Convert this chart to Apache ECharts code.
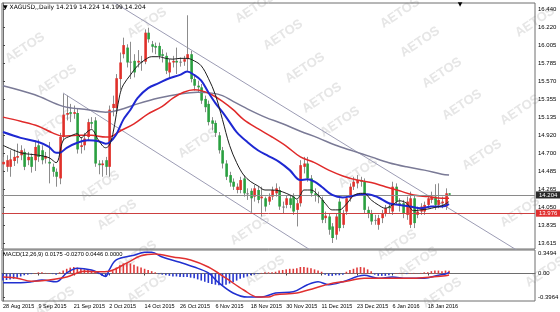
<!DOCTYPE html>
<html><head><meta charset="utf-8">
<script src="https://cdn.jsdelivr.net/npm/echarts@6/dist/echarts.min.js"></script>
<style>html,body{margin:0;padding:0;background:#fff}#c{width:560px;height:312px}</style>
</head><body><div id="c"></div>
<script>
// ---------- DATA ----------
// candles: [open, close, low, high], one per bar (bar index = position)
const candles = [
[14.57,14.60,14.50,14.66],[14.54,14.62,14.48,14.68],[14.54,14.63,14.42,14.74],[14.61,14.66,14.55,14.75],
[14.65,14.67,14.58,14.82],[14.68,14.74,14.62,14.80],[14.72,14.54,14.50,14.76],[14.62,14.66,14.56,14.72],
[14.66,14.54,14.47,14.70],[14.62,14.78,14.49,14.86],[14.80,14.66,14.60,14.87],[14.74,14.62,14.57,14.80],
[14.64,14.67,14.58,14.72],[14.60,14.58,14.34,14.84],[14.54,14.48,14.42,14.58],[14.48,14.42,14.30,14.52],
[14.40,14.90,14.33,14.95],[14.90,15.17,14.85,15.42],[15.17,15.19,15.10,15.40],[15.20,15.18,15.08,15.30],
[15.18,15.20,15.12,15.28],[15.19,14.75,14.70,15.25],[14.78,14.80,14.70,14.90],[14.80,14.88,14.74,14.95],
[14.90,15.08,14.85,15.12],[15.08,15.06,15.00,15.14],[15.10,14.58,14.54,15.14],[14.58,14.56,14.45,14.62],
[14.56,14.58,14.42,14.62],[14.62,14.54,14.44,14.66],[14.54,15.23,14.42,15.28],[15.25,15.30,15.15,15.40],
[15.25,15.61,15.20,15.66],[15.60,15.80,15.47,15.92],[15.90,16.01,15.85,16.10],[15.98,15.80,15.74,16.02],
[15.80,15.81,15.60,16.05],[15.82,15.68,15.62,15.90],[15.80,15.82,15.74,15.95],[15.80,15.81,15.70,15.88],
[15.81,16.16,15.78,16.20],[16.16,16.08,16.04,16.22],[16.02,15.99,15.92,16.06],[16.00,15.98,15.90,16.04],
[16.00,15.88,15.84,16.04],[15.90,15.88,15.80,15.96],[15.88,15.70,15.66,15.92],[15.68,15.80,15.60,15.84],
[15.80,15.82,15.74,15.88],[15.82,15.80,15.66,15.98],[15.80,15.81,15.75,15.86],[15.81,15.84,15.76,15.88],
[15.84,15.90,15.70,16.37],[15.90,15.60,15.56,15.94],[15.60,15.52,15.46,15.64],[15.52,15.50,15.44,15.58],
[15.50,15.34,15.30,15.54],[15.36,15.26,15.20,15.40],[15.30,15.08,15.04,15.34],[15.10,15.06,14.98,15.14],
[15.07,14.95,14.90,15.10],[14.92,14.74,14.70,14.96],[14.74,14.58,14.52,14.78],[14.58,14.42,14.38,14.62],
[14.44,14.35,14.30,14.48],[14.36,14.30,14.26,14.40],[14.26,14.30,14.22,14.34],[14.26,14.38,14.22,14.42],
[14.40,14.22,14.18,14.44],[14.22,14.21,14.14,14.28],[14.25,14.16,13.99,14.28],[14.18,14.28,14.12,14.32],
[14.26,14.14,14.10,14.30],[14.16,14.18,13.94,14.30],[14.16,14.06,14.00,14.18],[14.12,14.18,14.08,14.22],
[14.18,14.26,14.14,14.30],[14.22,14.28,14.18,14.34],[14.26,14.06,14.02,14.30],[14.06,14.05,13.98,14.12],
[14.08,14.16,14.04,14.20],[14.16,14.08,14.04,14.20],[14.18,14.00,13.96,14.22],[14.02,14.10,13.82,14.14],
[14.10,14.56,14.06,14.62],[14.54,14.58,14.46,14.66],[14.58,14.40,14.36,14.66],[14.40,14.22,14.18,14.44],
[14.22,14.20,14.12,14.28],[14.20,14.18,14.10,14.24],[14.14,13.90,13.86,14.18],[13.92,13.95,13.86,14.00],
[13.94,13.78,13.72,13.98],[13.82,13.68,13.62,13.86],[13.72,13.94,13.66,13.98],[14.12,13.80,13.76,14.16],
[13.84,13.98,13.80,14.02],[14.00,14.16,13.96,14.20],[14.16,14.30,14.12,14.34],[14.30,14.36,14.26,14.42],
[14.34,14.38,14.28,14.44],[14.38,14.36,14.30,14.42],[14.36,14.02,13.98,14.40],[14.02,13.98,13.92,14.06],
[13.98,13.88,13.84,14.02],[13.90,13.90,13.84,13.96],[13.84,13.92,13.78,13.96],[13.92,13.98,13.86,14.02],
[13.98,14.04,13.94,14.08],[14.06,14.04,13.98,14.10],[14.00,14.30,13.96,14.36],[14.30,14.12,14.08,14.34],
[14.10,14.08,14.00,14.16],[14.10,13.98,13.92,14.14],[13.96,14.12,13.90,14.18],[13.84,14.16,13.80,14.24],
[14.16,13.86,13.80,14.20],[13.96,14.00,13.92,14.06],[14.00,14.06,13.96,14.10],[14.00,14.08,13.96,14.12],
[14.08,14.16,14.04,14.20],[14.14,14.18,14.10,14.24],[14.18,14.08,14.02,14.33],[14.08,14.14,14.04,14.34],
[14.10,14.12,14.04,14.18],[14.06,14.22,14.02,14.28],[14.219,14.204,14.199,14.224]
];
// moving averages: [bar, price]
const maBlack = [[0,14.80],[5,14.71],[10,14.68],[13,14.65],[15,14.59],[17,14.86],[19,14.91],[21,14.94],[22,14.89],[24,14.97],[25,14.99],[27,14.86],[29,14.77],[30,14.80],[31,14.93],[32,15.17],[33,15.41],[34,15.53],[36,15.65],[38,15.76],[40,15.83],[42,15.87],[44,15.87],[46,15.85],[48,15.84],[50,15.85],[52,15.85],[54,15.82],[56,15.76],[58,15.61],[60,15.41],[62,15.11],[64,14.80],[66,14.59],[68,14.44],[70,14.36],[72,14.31],[74,14.26],[76,14.26],[78,14.25],[80,14.22],[82,14.18],[83,14.15],[84,14.20],[85,14.26],[87,14.26],[89,14.20],[91,14.10],[93,14.02],[95,14.02],[97,14.09],[99,14.19],[101,14.22],[102,14.22],[104,14.14],[106,14.08],[108,14.04],[110,14.08],[112,14.13],[114,14.10],[116,14.01],[118,14.02],[120,14.03],[122,14.05],[124,14.07],[126,14.12]];
const maBlue = [[0,14.96],[5,14.89],[10,14.84],[13,14.78],[15,14.71],[16,14.71],[18,14.77],[21,14.83],[24,14.86],[27,14.85],[29,14.82],[30,14.83],[32,14.93],[34,15.11],[36,15.23],[38,15.37],[41,15.49],[44,15.55],[47,15.61],[50,15.65],[52,15.69],[54,15.65],[56,15.58],[58,15.44],[60,15.31],[62,15.20],[64,15.08],[66,14.96],[69,14.84],[72,14.74],[75,14.67],[78,14.60],[81,14.50],[84,14.38],[86,14.39],[88,14.36],[90,14.30],[93,14.20],[96,14.17],[99,14.19],[101,14.21],[103,14.21],[106,14.17],[109,14.10],[112,14.08],[115,14.06],[118,14.04],[121,14.06],[124,14.06],[126,14.09]];
const maRed = [[0,15.14],[5,15.09],[10,15.03],[14,14.95],[17,14.91],[21,14.92],[25,14.92],[29,14.90],[30,14.90],[33,14.97],[37,15.06],[41,15.18],[45,15.27],[48,15.37],[51,15.44],[54,15.47],[56,15.46],[59,15.41],[62,15.33],[65,15.23],[68,15.11],[72,15.00],[76,14.90],[80,14.79],[84,14.66],[88,14.59],[92,14.50],[96,14.43],[100,14.38],[104,14.35],[108,14.30],[112,14.25],[116,14.20],[120,14.18],[124,14.16],[126,14.16]];
const maGray = [[0,15.52],[9,15.41],[17,15.27],[24,15.23],[29,15.20],[33,15.23],[38,15.30],[44,15.37],[50,15.42],[55,15.44],[59,15.43],[62,15.40],[65,15.33],[69,15.24],[74,15.14],[79,15.06],[84,14.97],[89,14.89],[94,14.80],[99,14.73],[104,14.66],[109,14.59],[114,14.54],[119,14.50],[124,14.45],[126,14.44]];
// trend channel anchors: [bar, price]
const channelUpper = [[28,16.613],[150,13.406]];
const channelLower = [[16.95,15.432],[95,13.313]];
const levelLine = 13.976;
// MACD
const macdMain = [[0,-0.156],[5,-0.156],[8,-0.14],[11,-0.11],[15,-0.14],[18,0.01],[21,0.09],[25,0.06],[27,0.01],[29,-0.05],[30,0.06],[32,0.23],[37,0.31],[40,0.36],[42,0.36],[45,0.28],[50,0.19],[54,0.11],[58,0.01],[61,-0.16],[65,-0.33],[69,-0.40],[73,-0.40],[77,-0.33],[82,-0.31],[86,-0.19],[89,-0.14],[92,-0.19],[96,-0.14],[102,-0.03],[106,-0.08],[110,-0.06],[114,-0.08],[119,-0.08],[123,-0.03],[125,-0.01],[126,0.0175]];
const macdSignal = [[0,-0.06],[4,-0.08],[8,-0.13],[13,-0.11],[18,-0.06],[23,0.04],[27,0.03],[30,0.04],[35,0.18],[39,0.30],[43,0.33],[48,0.28],[53,0.23],[58,0.11],[63,-0.08],[68,-0.28],[72,-0.40],[75,-0.40],[77,-0.36],[83,-0.33],[88,-0.25],[92,-0.18],[97,-0.13],[102,-0.08],[106,-0.08],[111,-0.08],[116,-0.08],[121,-0.06],[125,-0.04],[126,-0.027]];
const macdHist = [
-0.12,-0.11,-0.10,-0.09,-0.07,-0.05,
-0.03,-0.02,-0.01,0.01,0.02,0.02,0.01,0.01,-0.01,-0.02,
0.02,0.05,0.08,0.10,0.11,0.10,0.08,0.07,0.06,0.05,0.03,-0.01,
-0.04,-0.05,-0.02,
0.04,0.10,0.14,0.17,0.18,0.17,0.15,0.12,0.10,
0.08,0.06,0.04,0.02,
-0.01,-0.02,-0.03,-0.04,-0.05,-0.05,-0.06,-0.06,-0.06,-0.07,-0.08,-0.10,-0.12,-0.14,-0.16,-0.18,-0.19,-0.20,-0.20,-0.19,-0.17,-0.15,-0.12,-0.09,-0.07,-0.05,
-0.03,-0.02,-0.01,0.01,0.02,0.02,0.02,0.03,
0.05,0.06,0.07,0.08,0.08,0.09,0.11,0.11,0.10,0.09,0.07,0.05,0.03,
-0.02,-0.04,-0.04,-0.03,-0.03,-0.02,
0.03,0.06,0.08,0.10,0.11,0.10,0.07,0.04,
-0.02,-0.04,-0.04,-0.04,-0.03,-0.01,
0.01,0.01,0.005,-0.01,0.01,0.01,0.005,0.01,0.02,0.02,
0.04,0.05,0.05,0.04,0.05,0.045
];
// tick labels
const priceTicks = [16.440,16.220,16.005,15.785,15.570,15.355,15.135,14.920,14.700,14.485,14.265,14.050,13.835,13.615];
const macdTicks = [0.3494, 0, -0.3964];
const macdTickLabels = ['0.3494','0.00','-0.3964'];
const dateTicks = [0,10,20,30,40,50,60,70,80,90,100,110,120];
const dateLabels = ['28 Aug 2015','9 Sep 2015','21 Sep 2015','2 Oct 2015','14 Oct 2015','26 Oct 2015','6 Nov 2015','18 Nov 2015','30 Nov 2015','11 Dec 2015','23 Dec 2015','6 Jan 2016','18 Jan 2016'];
const symbolTitle = 'XAGUSD,,Daily';
const macdTitle = 'MACD(12,26,9) 0.0175 -0.0270 0.0446 0.0000';

// ---------- LAYOUT / STYLE ----------
const FONT = '"Liberation Sans", Arial, sans-serif';
const X_MIN = -0.28, X_MAX = 150.28;
const watermarkSpots = [[25,48],[147,23],[255,8],[283,35],[305,68],[322,98],[400,13],[420,42],[442,73],[462,105],[535,22],[57,80],[53,125],[100,186],[117,215],[198,143],[340,122],[358,173],[250,230],[482,155],[520,212],[520,110],[137,256],[147,288],[265,271],[397,245],[418,262],[442,293],[545,272],[55,302]];

const last = candles[candles.length - 1];
const headerText = '\u25BC ' + symbolTitle + ' ' + [last[0], last[3], last[2], last[1]].map(v => v.toFixed(3)).join(' ');

const graphics = watermarkSpots.map(p => ({
  type: 'text', x: p[0], y: p[1], rotation: 0.59, z: -5, silent: true,
  style: { text: 'AETOS', fill: '#e6e6e6', font: 'bold 13px ' + FONT, textAlign: 'center', textVerticalAlign: 'middle', verticalAlign: 'middle' }
}));
graphics.push({ type: 'text', x: 3, y: 7.5, z: 50, silent: true,
  style: { text: headerText, fill: '#000', font: '6px "DejaVu Sans", ' + FONT, textVerticalAlign: 'middle', verticalAlign: 'middle' } });
graphics.push({ type: 'text', x: 3, y: 254.5, z: 50, silent: true,
  style: { text: macdTitle, fill: '#000', font: '5.8px ' + FONT, textVerticalAlign: 'middle', verticalAlign: 'middle' } });
graphics.push({ type: 'text', x: 460, y: 4.5, z: 50, silent: true,
  style: { text: '\u25BC', fill: '#000', font: '6px "DejaVu Sans", sans-serif', textAlign: 'center', textVerticalAlign: 'middle', verticalAlign: 'middle' } });

function candleItem(params, api) {
  const x = api.value(0), o = api.value(1), c = api.value(2), l = api.value(3), h = api.value(4);
  const pH = api.coord([x, h]), pL = api.coord([x, l]), pO = api.coord([x, o]), pC = api.coord([x, c]);
  const cx = Math.round(pH[0]) + 0.5;
  const doji = Math.abs(c - o) < 0.012;
  const col = doji ? '#7a7a7a' : (c > o ? '#e0302a' : '#2aa040');
  const top = Math.min(pO[1], pC[1]);
  const hgt = Math.max(Math.abs(pO[1] - pC[1]), 1);
  return { type: 'group', children: [
    { type: 'line', shape: { x1: cx, y1: pH[1], x2: cx, y2: pL[1] }, style: { stroke: '#8c8c8c', lineWidth: 1 } },
    { type: 'rect', shape: { x: cx - 1.2, y: top, width: 2.6, height: hgt }, style: { fill: col } }
  ]};
}

const lineSeries = (data, color, width, z, extra) => Object.assign({
  type: 'line', data: data, showSymbol: false, smooth: 0.35, silent: true, animation: false,
  xAxisIndex: 0, yAxisIndex: 0, lineStyle: { color: color, width: width }, z: z
}, extra || {});

const option = {
  animation: false,
  backgroundColor: '#ffffff',
  textStyle: { fontFamily: FONT },
  grid: [
    { left: 2, top: 3, width: 533, height: 246, show: true, borderColor: '#6e6e6e', borderWidth: 1, backgroundColor: 'transparent', containLabel: false, outerBoundsMode: 'none' },
    { left: 2, top: 250, width: 533, height: 51, show: true, borderColor: '#6e6e6e', borderWidth: 1, backgroundColor: 'transparent', containLabel: false, outerBoundsMode: 'none' }
  ],
  xAxis: [
    { type: 'value', gridIndex: 0, min: X_MIN, max: X_MAX, show: false },
    { type: 'value', gridIndex: 1, min: X_MIN, max: X_MAX,
      axisLine: { show: true, lineStyle: { color: '#6e6e6e', width: 1 } },
      axisTick: { show: true, customValues: dateTicks, length: 2, lineStyle: { color: '#444' } },
      axisLabel: { show: true, customValues: dateTicks, align: 'left', margin: 2, fontSize: 5.5, color: '#000', fontFamily: FONT,
        formatter: v => { const k = dateTicks.indexOf(v); return k >= 0 ? dateLabels[k] : ''; } },
      splitLine: { show: false } }
  ],
  yAxis: [
    { type: 'value', gridIndex: 0, position: 'right', min: 13.5475, max: 16.5185,
      axisLine: { show: true, lineStyle: { color: '#6e6e6e', width: 1 } },
      axisTick: { show: true, customValues: priceTicks, length: 2, inside: false, lineStyle: { color: '#444' } },
      axisLabel: { show: true, customValues: priceTicks, margin: 3, fontSize: 6, color: '#000', fontFamily: FONT,
        formatter: v => v.toFixed(3) },
      splitLine: { show: false } },
    { type: 'value', gridIndex: 1, position: 'right', min: -0.4661, max: 0.3983,
      axisLine: { show: true, lineStyle: { color: '#6e6e6e', width: 1 } },
      axisTick: { show: true, customValues: macdTicks, length: 2, lineStyle: { color: '#444' } },
      axisLabel: { show: true, customValues: macdTicks, margin: 3, fontSize: 6, color: '#000', fontFamily: FONT,
        formatter: v => { const k = macdTicks.indexOf(v); return k >= 0 ? macdTickLabels[k] : ''; } },
      splitLine: { show: false } }
  ],
  graphic: { elements: graphics },
  series: [
    lineSeries(channelUpper, '#9c9cb4', 1, 2, { smooth: false }),
    lineSeries(channelLower, '#9c9cb4', 1, 2, { smooth: false }),
    lineSeries(maGray, '#7a7a96', 1.5, 4, {
      markLine: { silent: true, symbol: 'none', animation: false,
        data: [
          { yAxis: last[1], lineStyle: { color: '#8a8a8a', width: 1, type: 'solid' },
            label: { show: true, position: 'end', distance: 1, formatter: last[1].toFixed(3), color: '#fff', backgroundColor: '#2a2a2a', padding: [1, 3, 0, 3], fontSize: 6, fontFamily: FONT } },
          { yAxis: levelLine, lineStyle: { color: '#cc4040', width: 1, type: 'solid' },
            label: { show: true, position: 'end', distance: 1, formatter: levelLine.toFixed(3), color: '#fff', backgroundColor: '#e03030', padding: [1, 3, 0, 3], fontSize: 6, fontFamily: FONT } }
        ] } }),
    lineSeries(maRed, '#e02a2a', 1.5, 4),
    lineSeries(maBlue, '#1e28d2', 2, 5),
    lineSeries(maBlack, '#1e1e1e', 1, 6),
    { type: 'custom', xAxisIndex: 0, yAxisIndex: 0, clip: true, z: 3, silent: true,
      dimensions: ['i', 'open', 'close', 'low', 'high'],
      encode: { x: 0, y: [1, 2, 3, 4] },
      data: candles.map((r, i) => [i, r[0], r[1], r[2], r[3]]),
      renderItem: candleItem },
    { type: 'bar', xAxisIndex: 1, yAxisIndex: 1, barWidth: 1.6, silent: true, z: 2,
      data: macdHist.map((v, i) => [i, v]),
      itemStyle: { color: p => p.value[1] >= 0 ? '#e03a3a' : '#2838d0' } },
    { type: 'line', xAxisIndex: 1, yAxisIndex: 1, data: macdMain, showSymbol: false, smooth: 0.35, silent: true, z: 4,
      lineStyle: { color: '#2030d0', width: 1.5 } },
    { type: 'line', xAxisIndex: 1, yAxisIndex: 1, data: macdSignal, showSymbol: false, smooth: 0.35, silent: true, z: 4,
      lineStyle: { color: '#e03030', width: 1.5 } }
  ]
};

const chart = echarts.init(document.getElementById('c'), null, { renderer: 'canvas' });
chart.setOption(option);
</script></body></html>
